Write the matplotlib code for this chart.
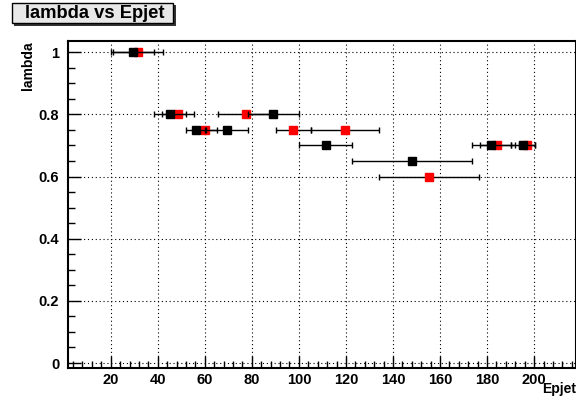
import numpy as np
import matplotlib.pyplot as plt
from matplotlib.patches import Rectangle
from matplotlib.ticker import MultipleLocator

plt.rcParams['font.family'] = ['Liberation Sans', 'DejaVu Sans']
plt.rcParams['font.weight'] = 'bold'

# black series
black_x = [29.3, 45.2, 89.1, 56.2, 69.3, 111.4, 148.1, 181.8, 195.4]
black_y = [1.0, 0.8, 0.8, 0.75, 0.75, 0.7, 0.65, 0.7, 0.7]
black_xerr = [9.0, 6.7, 10.8, 4.3, 9.1, 11.3, 25.5, 8.2, 5.1]

# red series
red_x = [31.6, 48.6, 77.7, 60.2, 97.7, 119.6, 155.2, 184.4, 197.0]
red_y = [1.0, 0.8, 0.8, 0.75, 0.75, 0.75, 0.6, 0.7, 0.7]
red_xerr = [10.5, 6.6, 12.3, 5.0, 7.6, 14.4, 21.2, 7.3, 3.5]

fig = plt.figure(figsize=(5.76, 4.04), dpi=100)
ax = fig.add_axes([0.1175, 0.0899, 0.8825, 0.8086])

ax.errorbar(red_x, red_y, xerr=red_xerr, fmt='s', color='#ff0000', mec='#ff0000',
            ms=6, ecolor='black', elinewidth=1, capsize=2, capthick=1, zorder=3)
ax.errorbar(black_x, black_y, xerr=black_xerr, fmt='s', color='black', mec='black',
            ms=6, ecolor='black', elinewidth=1, capsize=2, capthick=1, zorder=4)

ax.set_xlim(1.7, 217.8)
ax.set_ylim(-0.015, 1.036)

ax.xaxis.set_minor_locator(MultipleLocator(4))
ax.yaxis.set_minor_locator(MultipleLocator(0.05))
ax.set_yticks([0, 0.2, 0.4, 0.6, 0.8, 1.0])
ax.set_yticklabels(['0', '0.2', '0.4', '0.6', '0.8', '1'])
ax.set_xticks([20, 40, 60, 80, 100, 120, 140, 160, 180, 200])

ax.tick_params(which='both', direction='in', top=False, right=False, labelsize=10.5)
ax.tick_params(which='major', length=9, width=1)
ax.tick_params(which='minor', length=5, width=1)
ax.tick_params(axis='x', pad=4)
ax.tick_params(axis='y', pad=6)

ax.grid(True, which='major', color='black', linestyle=(0, (1, 2.5)), linewidth=0.8)
for s in ax.spines.values():
    s.set_linewidth(1.5)

ax.set_xlabel('Epjet', fontsize=10, fontweight='bold')
ax.xaxis.set_label_coords(1.0, -0.045)
ax.xaxis.label.set_horizontalalignment('right')
ax.set_ylabel('lambda', fontsize=10, fontweight='bold')
ax.yaxis.set_label_coords(-0.065, 1.0)
ax.yaxis.label.set_horizontalalignment('right')

# title box with shadow
fig.patches.append(Rectangle((14/576, 1-26/404), 162/576, 20.6/404, transform=fig.transFigure,
                             facecolor='#333333', edgecolor='none'))
fig.patches.append(Rectangle((11.7/576, 1-23.3/404), 161.5/576, 20.6/404, transform=fig.transFigure,
                             facecolor='#e8e8e8', edgecolor='black', linewidth=1))
fig.text(94.5/576, 1-18.3/404, 'lambda vs Epjet', ha='center', va='baseline',
         fontsize=13.2, fontweight='bold')

fig.savefig('out.png', dpi=100)
